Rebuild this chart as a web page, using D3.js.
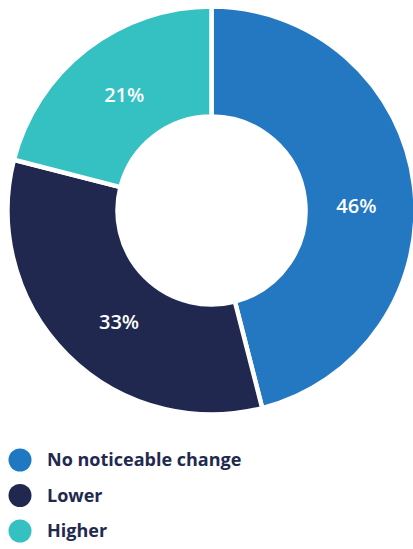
<!DOCTYPE html>
<html><head><meta charset="utf-8">
<script src="https://cdn.jsdelivr.net/npm/d3@7"></script>
<style>html,body{margin:0;padding:0;background:#fff;}svg{display:block;}</style>
</head><body>
<svg id="c" width="413" height="549"></svg>
<script>
const categories = ["No noticeable change", "Lower", "Higher"];
const values = [46, 33, 21];
const colors = ["#2477C1", "#21284F", "#35C0C2"];
const legendColors = ["#1E78C2", "#21284F", "#35C0C2"];

const svg = d3.select("#c");
const cx = 211.5, cy = 210.5, R = 204, r = 94;
// per-slice label angle nudge (radians), matching original label placement
const labelNudge = [0.09, -0.094, 0.014];
const labelR = 145;

const g = svg.append("g").attr("transform", `translate(${cx},${cy})`);
const pie = d3.pie().sort(null).value(d => d)(values);
const arc = d3.arc().innerRadius(r).outerRadius(R);
g.selectAll("path").data(pie).join("path")
  .attr("d", arc).attr("fill", (d,i) => colors[i])
  .attr("stroke", "#fff").attr("stroke-width", 4.5).attr("stroke-linejoin","miter");
g.selectAll("text").data(pie).join("text")
  .attr("transform", (d,i) => {
    const a = (d.startAngle + d.endAngle) / 2 + labelNudge[i];
    return `translate(${labelR*Math.sin(a)},${-labelR*Math.cos(a)})`;
  })
  .attr("text-anchor", "middle").attr("dy", "0.36em")
  .attr("fill", "#fff").attr("font-family", "'Open Sans', sans-serif")
  .attr("font-weight", 600).attr("font-size", 20)
  .text((d,i) => values[i] + "%");

const lg = svg.append("g");
const ly = d3.scalePoint().domain(categories).range([460, 531]);
const items = lg.selectAll("g").data(categories).join("g")
  .attr("transform", d => `translate(0,${ly(d)})`);
items.append("circle").attr("cx", 20).attr("cy", 0).attr("r", 11.5)
  .attr("fill", (d,i) => legendColors[i]);
items.append("text").attr("x", 47).attr("dy", "0.35em")
  .attr("fill", "#22294F").attr("font-family", "'Open Sans', sans-serif")
  .attr("font-weight", 700).attr("font-size", 18).text(d => d);
</script>
</body></html>
